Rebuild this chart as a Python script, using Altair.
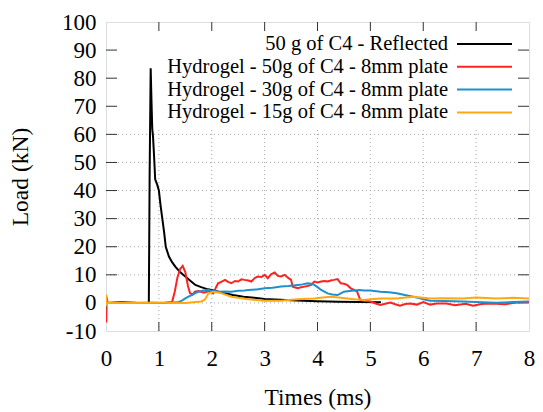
import altair as alt
import pandas as pd

FONT = "Liberation Serif"

series_names = [
    "50 g of C4 - Reflected",
    "Hydrogel - 50g of C4 - 8mm plate",
    "Hydrogel - 30g of C4 - 8mm plate",
    "Hydrogel - 15g of C4 - 8mm plate",
]
series_colors = ["#000000", "#ff2222", "#1e8fcf", "#ffa812"]

black = [(0, 0), (0.3, 0.2), (0.6, 0), (0.81, 0), (0.825, 45), (0.845, 83.5), (0.86, 72), (0.875, 62),
         (0.89, 59), (0.91, 52), (0.93, 44), (0.97, 42), (1.0, 40), (1.03, 35), (1.06, 30.7), (1.1, 25),
         (1.13, 20), (1.19, 16.5), (1.25, 14.5), (1.31, 12.9), (1.4, 11), (1.5, 9.4), (1.6, 7.8),
         (1.69, 6.4), (1.8, 5.6), (1.9, 5), (2.0, 4.6), (2.2, 3.6), (2.4, 2.8), (2.6, 2.2), (2.8, 1.8),
         (3.0, 1.4), (3.3, 1.1), (3.6, 0.9), (4.0, 0.6), (4.4, 0.4), (4.8, 0.3), (5.2, 0.2)]

red = [(0, 0), (0.005, -7), (0.012, 2), (0.03, 0), (0.3, 0.1), (0.6, 0), (0.9, 0.1), (1.1, 0),
       (1.25, 0.3), (1.3, 4), (1.35, 9), (1.4, 12), (1.45, 13.2), (1.5, 11), (1.55, 6), (1.59, 3.4),
       (1.64, 3), (1.68, 4), (1.75, 4.2), (1.85, 3.6), (1.95, 4.2), (2.03, 3.4), (2.08, 5.5), (2.12, 7),
       (2.18, 7.5), (2.25, 8.2), (2.31, 7.5), (2.37, 7), (2.44, 7.8), (2.5, 7.6), (2.56, 8.4), (2.62, 8.2),
       (2.69, 8.0), (2.75, 7.6), (2.81, 8.8), (2.87, 9.4), (2.94, 9.2), (3.0, 10), (3.06, 8.8), (3.12, 10.2),
       (3.19, 10.8), (3.25, 9.6), (3.31, 9.4), (3.38, 10), (3.44, 9.0), (3.5, 8.2), (3.53, 5.8), (3.58, 5.5),
       (3.63, 5.2), (3.69, 5.6), (3.75, 5.8), (3.81, 6.0), (3.88, 6.4), (3.94, 7.6), (4.0, 7.3), (4.07, 7.6),
       (4.13, 7.8), (4.19, 7.6), (4.25, 8.0), (4.31, 8.2), (4.38, 8.5), (4.44, 7.0), (4.5, 6.8), (4.56, 6.4),
       (4.63, 5.2), (4.69, 4.6), (4.75, 4), (4.81, 1), (4.88, 0.8), (5.0, 0.5), (5.1, -0.2), (5.19, -0.7),
       (5.28, -0.3), (5.38, 0.1), (5.47, -0.5), (5.56, -1.0), (5.66, -0.4), (5.75, -0.2), (5.88, -0.6),
       (6.0, 0.3), (6.13, -0.6), (6.25, -0.2), (6.44, -0.2), (6.6, -0.8), (6.8, -0.3), (6.94, -1),
       (7.1, -0.4), (7.25, -0.2), (7.38, -0.3), (7.55, -0.5), (7.69, 0), (7.85, 0.2), (8.0, 0.3)]

blue = [(0, 0), (0.005, 1), (0.015, -0.5), (0.03, 0), (0.5, 0.1), (1.0, 0), (1.37, 0.2), (1.45, 1),
        (1.5, 1.6), (1.56, 2.2), (1.62, 2.8), (1.69, 3.5), (1.75, 4), (1.85, 4.4), (1.94, 4.6), (2.03, 4.2),
        (2.12, 4), (2.25, 4.1), (2.37, 4), (2.5, 4.3), (2.62, 4.4), (2.69, 4.6), (2.85, 4.8), (3.0, 5.2),
        (3.15, 5.4), (3.31, 5.8), (3.45, 6.0), (3.63, 6.4), (3.72, 6.6), (3.81, 7), (3.88, 6.8), (3.94, 6.4),
        (4.0, 5.6), (4.07, 4.6), (4.13, 4), (4.19, 3.4), (4.28, 3.0), (4.38, 2.8), (4.44, 3.4), (4.5, 4),
        (4.6, 4.2), (4.69, 4.4), (4.8, 4.6), (4.88, 4.4), (5.0, 4.4), (5.19, 4), (5.35, 3.8), (5.5, 3.4),
        (5.65, 2.8), (5.81, 2.2), (5.9, 1.8), (6.0, 1.3), (6.13, 0.8), (6.4, 0.7), (6.75, 0.5), (7.0, 0.3),
        (7.38, 0.1), (7.7, 0.3), (8.0, 0.5)]

orange = [(0, 0), (0.005, 3), (0.012, -1), (0.03, 0), (0.5, 0), (1.0, 0.1), (1.5, 0), (1.8, 0.5),
          (1.87, 1.2), (1.94, 3.4), (2.03, 4), (2.1, 3.8), (2.19, 3.4), (2.28, 2.8), (2.37, 2.2), (2.5, 1.8),
          (2.69, 1.3), (2.85, 1.0), (3.0, 0.8), (3.31, 0.8), (3.45, 1.0), (3.63, 1.3), (3.8, 1.5), (3.94, 1.6),
          (4.1, 1.9), (4.25, 2.2), (4.4, 1.9), (4.56, 1.6), (4.7, 1.3), (4.88, 1.0), (5.0, 1.3), (5.19, 1.6),
          (5.5, 1.6), (5.81, 2.2), (6.0, 1.8), (6.13, 1.6), (6.4, 1.7), (6.75, 1.6), (7.0, 1.9), (7.38, 1.6),
          (7.7, 1.8), (8.0, 1.6)]

x_ticks = [0, 1, 2, 3, 4, 5, 6, 7, 8]
y_ticks = [-10, 0, 10, 20, 30, 40, 50, 60, 70, 80, 90, 100]
y_grid = [0, 10, 20, 30, 40, 50, 60]
x_grid = [1, 2, 3, 4, 5, 6, 7]

W, H = 423, 309

xscale = alt.Scale(domain=[0, 8], nice=False, zero=False)
yscale = alt.Scale(domain=[-10, 100], nice=False, zero=False)

X_AX = alt.Axis(values=x_ticks, labelPadding=16, labelExpr="'' + datum.value",
                title="Times (ms)", titlePadding=15, ticks=False, domain=False, grid=False,
                labelOverlap=False, labelFlush=False, labelFont=FONT, labelFontSize=23,
                labelColor="black", titleFont=FONT, titleFontSize=23.5,
                titleFontWeight="normal", titleColor="black")
Y_AX = alt.Axis(values=y_ticks, labelPadding=10, labelExpr="'' + datum.value",
                title="Load (kN)", titlePadding=29, ticks=False, domain=False, grid=False,
                labelOverlap=False, labelFlush=False, labelFont=FONT, labelFontSize=23,
                labelColor="black", titleFont=FONT, titleFontSize=23.5,
                titleFontWeight="normal", titleColor="black")


def X(field):
    return alt.X(field, scale=xscale, axis=X_AX)


def Y(field):
    return alt.Y(field, scale=yscale, axis=Y_AX)


layers = []

# grid
layers.append(alt.Chart(pd.DataFrame({"v": y_grid})).mark_rule(
    color="#a8a8a8", strokeWidth=1, strokeDash=[1, 3]).encode(
    y=Y("v:Q"), x=alt.value(0), x2=alt.value(W)))
layers.append(alt.Chart(pd.DataFrame({"t": x_grid, "lo": [-10] * 7, "hi": [62.5] * 7})).mark_rule(
    color="#a8a8a8", strokeWidth=1, strokeDash=[1, 3]).encode(
    x=X("t:Q"), y=Y("lo:Q"), y2="hi:Q"))

# ticks (inward)
xt = pd.DataFrame({"t": x_ticks[1:-1]})
yt = pd.DataFrame({"v": y_ticks[1:-1]})
tick_color = "#333333"
layers.append(alt.Chart(xt).mark_rule(color=tick_color).encode(
    x=X("t:Q"), y=alt.value(H), y2=alt.value(H - 9)))
layers.append(alt.Chart(xt).mark_rule(color=tick_color).encode(
    x=X("t:Q"), y=alt.value(0), y2=alt.value(9)))
layers.append(alt.Chart(yt).mark_rule(color=tick_color).encode(
    y=Y("v:Q"), x=alt.value(0), x2=alt.value(11)))
layers.append(alt.Chart(yt).mark_rule(color=tick_color).encode(
    y=Y("v:Q"), x=alt.value(W), x2=alt.value(W - 11)))

# data lines
for name, pts, col in zip(series_names, [black, red, blue, orange], series_colors):
    df = pd.DataFrame(pts, columns=["t", "v"])
    df["series"] = name
    layers.append(alt.Chart(df).mark_line(color=col, strokeWidth=2, clip=True).encode(
        x=X("t:Q"), y=Y("v:Q"), order="t:Q"))

# manual legend (gnuplot style: text then sample)
for i, (name, col) in enumerate(zip(series_names, series_colors)):
    yy = 22 + i * 22.8
    layers.append(alt.Chart(pd.DataFrame({"label": [name]})).mark_text(
        align="right", baseline="middle", font=FONT, fontSize=20.5, color="black").encode(
        text="label:N", x=alt.value(W - 81), y=alt.value(yy)))
    layers.append(alt.Chart(pd.DataFrame({"label": [name]})).mark_rule(
        color=col, strokeWidth=2).encode(
        x=alt.value(W - 72), x2=alt.value(W - 17), y=alt.value(yy)))

chart = alt.layer(*layers).properties(
    width=W, height=H,
    autosize=alt.AutoSizeParams(type="none"),
    padding={"left": 98, "top": 14, "right": 6, "bottom": 80},
).configure_view(stroke="#222222", strokeWidth=1.2).configure(
    background="white", font=FONT
).configure_axis(
    ticks=False, domain=False, grid=False, labelOverlap=False, labelFlush=False,
    labelFont=FONT, labelFontSize=23, labelColor="black",
    titleFont=FONT, titleFontSize=23.5, titleFontWeight="normal", titleColor="black",
)

chart.save("out.html", embed_options={"renderer": "svg", "actions": False})
